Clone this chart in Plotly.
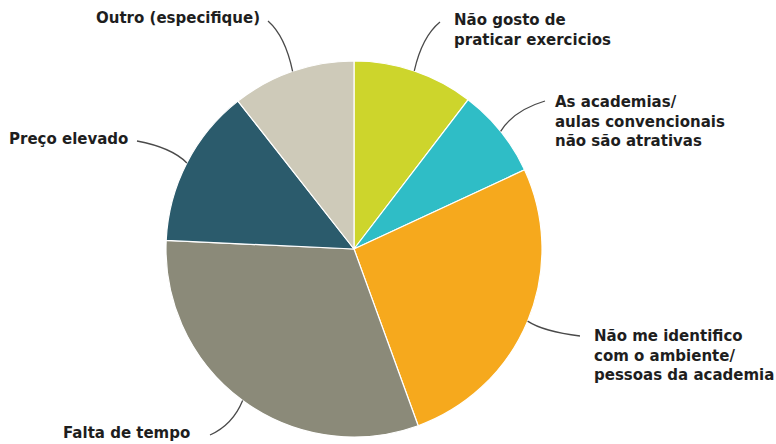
import math
import plotly.graph_objects as go

# Motivos para não frequentar academia (% das respostas)
categories = [
    "Não gosto de<br>praticar exercicios",
    "As academias/<br>aulas convencionais<br>não são atrativas",
    "Não me identifico<br>com o ambiente/<br>pessoas da academia",
    "Falta de tempo",
    "Preço elevado",
    "Outro (especifique)",
]
values = [10.4, 7.7, 26.4, 31.3, 13.7, 10.6]
colors = ["#cdd52c", "#2fbdc6", "#f6a91d", "#8b8a79", "#2b5b6c", "#cecab9"]

W, H = 776, 444
CX, CY, R = 354, 249, 188  # pie centre and radius in pixels

# label placement: text anchor (px), anchor side, start of leader line (px)
label_pos = [
    (452, 30, "left", (440, 22)),
    (553, 121, "left", (545, 101)),
    (592, 355, "left", (580, 336)),
    (192, 433, "right", (210, 435)),
    (130, 139, "right", (137, 141)),
    (262, 18, "right", (268, 21)),
]


def px(x):
    return x / W


def py(y):
    return 1 - y / H


fig = go.Figure(
    go.Pie(
        labels=[c.replace("<br>", " ") for c in categories],
        values=values,
        sort=False,
        direction="clockwise",
        rotation=0,
        marker=dict(colors=colors, line=dict(color="white", width=1.2)),
        textinfo="none",
        hoverinfo="label+percent",
        showlegend=False,
        domain=dict(x=[px(CX - R), px(CX + R)], y=[py(CY + R), py(CY - R)]),
    )
)

total = sum(values)
start = 0.0
annotations = []
shapes = []
for cat, v, (tx, ty, side, (sx, sy)) in zip(categories, values, label_pos):
    end = start + v / total * 360
    mid = math.radians((start + end) / 2)
    start = end
    # point on the rim at the middle of the slice
    ex = CX + R * math.sin(mid)
    ey = CY - R * math.cos(mid)
    # gently curved leader line
    qx = sx * 0.3 + ex * 0.7
    qy = sy * 0.7 + ey * 0.3
    shapes.append(
        dict(
            type="path",
            xref="paper",
            yref="paper",
            path=f"M {px(sx)},{py(sy)} Q {px(qx)},{py(qy)} {px(ex)},{py(ey)}",
            line=dict(color="#4a4a4a", width=1.3),
        )
    )
    annotations.append(
        dict(
            x=px(tx),
            y=py(ty),
            xref="paper",
            yref="paper",
            text=cat,
            showarrow=False,
            xanchor=side,
            yanchor="middle",
            align="left",
            font=dict(family="DejaVu Sans", size=15, color="#1e1e1e", weight="bold"),
        )
    )

fig.update_layout(
    width=W,
    height=H,
    margin=dict(l=0, r=0, t=0, b=0),
    paper_bgcolor="white",
    plot_bgcolor="white",
    annotations=annotations,
    shapes=shapes,
)

fig.write_html("out.html")
